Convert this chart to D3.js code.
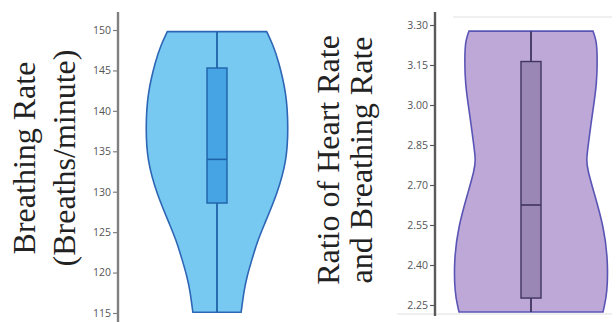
<!DOCTYPE html>
<html>
<head>
<meta charset="utf-8">
<script src="https://cdn.jsdelivr.net/npm/d3@7"></script>
<style>
  body { margin: 0; background: #fff; }
  svg { display: block; }
  .tick text { font-family: "Open Sans", sans-serif; font-size: 10.5px; fill: #555; }
  .ylab { font-family: "Liberation Serif", "Times New Roman", serif; font-size: 32px; fill: #222; }
</style>
</head>
<body>
<svg id="chart" width="616" height="322"></svg>
<script>
// breathing rate panel
const brTicks = [115, 120, 125, 130, 135, 140, 145, 150];
const brValues = [149.8, 148.1, 146.3, 142.2, 138.0, 133.9, 129.8, 125.6, 123.7, 121.6, 119.5, 117.5, 115.7, 115.1];
const brDensity = [0.69, 0.78, 0.85, 0.965, 0.99, 0.97, 0.84, 0.64, 0.555, 0.485, 0.415, 0.37, 0.345, 0.335];
const brBox = [115.1, 128.6, 134.0, 145.3, 149.8]; // min, q1, median, q3, max

// heart rate / breathing rate panel
const ratioTicks = [2.25, 2.40, 2.55, 2.70, 2.85, 3.00, 3.15, 3.30];
const ratioValues = [3.277, 3.244, 3.206, 3.083, 2.955, 2.831, 2.794, 2.756, 2.67, 2.543, 2.419, 2.295, 2.243, 2.224];
const ratioDensity = [0.805, 0.845, 0.86, 0.86, 0.79, 0.735, 0.72, 0.735, 0.82, 0.945, 1.0, 0.99, 0.95, 0.935];
const ratioBox = [2.224, 2.276, 2.625, 3.163, 3.277];

const svg = d3.select('#chart');

function violin(opts) {
    let g = svg.append('g');
    let y = opts.y;
    let w = d3.scaleLinear().domain([0, 1]).range([0, opts.maxHalf]);
    let pts = opts.values.map((v, i) => ({ v: v, d: opts.density[i] }));

    let area = d3.area()
        .y(d => y(d.v))
        .x0(d => opts.cx - w(d.d))
        .x1(d => opts.cx + w(d.d))
        .curve(d3.curveBasis);

    g.append('path')
        .datum(pts)
        .attr('d', area)
        .attr('fill', opts.fill)
        .attr('stroke', opts.stroke)
        .attr('stroke-width', 1.6);

    //whisker
    g.append('line')
        .attr('x1', opts.cx).attr('x2', opts.cx)
        .attr('y1', y(opts.box[4])).attr('y2', y(opts.box[0]))
        .attr('stroke', opts.boxStroke)
        .attr('stroke-width', 1.8);

    g.append('rect')
        .attr('x', opts.cx - 10)
        .attr('width', 20)
        .attr('y', y(opts.box[3]))
        .attr('height', y(opts.box[1]) - y(opts.box[3]))
        .attr('fill', opts.boxFill)
        .attr('stroke', opts.boxStroke)
        .attr('stroke-width', 1.4);

    g.append('line')
        .attr('x1', opts.cx - 10).attr('x2', opts.cx + 10)
        .attr('y1', y(opts.box[2])).attr('y2', y(opts.box[2]))
        .attr('stroke', opts.boxStroke)
        .attr('stroke-width', 1.6);
}

function axis(x, y, ticks, fmt, color, top, bottom) {
    let g = svg.append('g').attr('transform', `translate(${x},0)`);
    g.call(d3.axisLeft(y).tickValues(ticks).tickFormat(fmt).tickSize(5).tickPadding(2));
    g.select('.domain').remove();
    g.selectAll('.tick line').attr('stroke', color).attr('stroke-width', 1.2);
    g.append('line')
        .attr('y1', top).attr('y2', bottom)
        .attr('stroke', color)
        .attr('stroke-width', 2.4);
}

function ylabel(lines, xs, cy) {
    lines.forEach((t, i) => {
        svg.append('text')
            .attr('class', 'ylab')
            .attr('text-anchor', 'middle')
            .attr('transform', `translate(${xs[i]},${cy}) rotate(-90)`)
            .text(t);
    });
}

// left panel
const yBR = d3.scaleLinear().domain([115, 150]).range([313, 30]);
violin({
    y: yBR, cx: 217, maxHalf: 72,
    values: brValues, density: brDensity, box: brBox,
    fill: '#78c9f2', stroke: '#2d66b5', boxFill: '#47a4e4', boxStroke: '#1f62a8'
});
axis(118, yBR, brTicks, d3.format('d'), '#808080', 12, 322);
ylabel(['Breathing Rate', '(Breaths/minute)'], [35, 75], 158);

// right panel
const yRatio = d3.scaleLinear().domain([2.25, 3.30]).range([305, 25]);
svg.append('line').attr('x1', 453).attr('x2', 612).attr('y1', 17).attr('y2', 17)
    .attr('stroke', '#e0e0e0').attr('stroke-width', 1);
svg.append('line').attr('x1', 397).attr('x2', 612).attr('y1', 314).attr('y2', 314)
    .attr('stroke', '#e0e0e0').attr('stroke-width', 1);
violin({
    y: yRatio, cx: 531, maxHalf: 77,
    values: ratioValues, density: ratioDensity, box: ratioBox,
    fill: '#bda8d7', stroke: '#5a55b5', boxFill: '#9b87b5', boxStroke: '#3f3560'
});
axis(435, yRatio, ratioTicks, d3.format('.2f'), '#5a5a5a', 12, 316);
ylabel(['Ratio of Heart Rate', 'and Breathing Rate'], [339, 372], 160);
</script>
</body>
</html>
